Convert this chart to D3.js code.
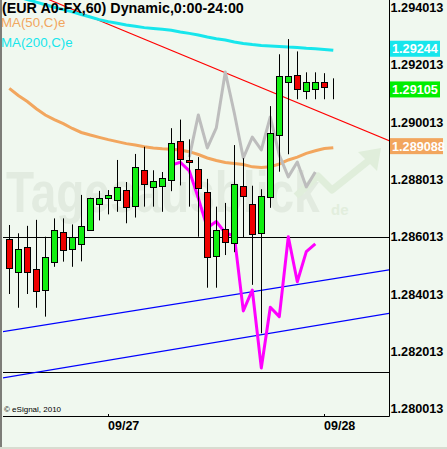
<!DOCTYPE html>
<html><head><meta charset="utf-8">
<script src="https://cdn.jsdelivr.net/npm/d3@7"></script>
<style>html,body{margin:0;padding:0;background:#f0f8ef;}svg{display:block}</style>
</head><body>
<script>
// ---- data (hourly candles, EUR A0-FX) ----
const openP  = [1.28593,1.28477,1.28564,1.28487,1.28414,1.28512,1.28617,1.28557,1.28575,1.28624,1.28714,1.28735,1.28728,1.28763,1.28707,1.28833,1.28774,1.28777,1.28798,1.28934,1.28868,1.28836,1.28756,1.28535,1.28627,1.28578,1.28778,1.28714,1.28613,1.28739,1.28955,1.29140,1.29165,1.29109,1.29116,1.29140,1.29110];
const highP  = [1.28642,1.28613,1.28639,1.28660,1.28601,1.28665,1.28665,1.28644,1.28747,1.28737,1.28761,1.28764,1.28869,1.28792,1.28890,1.28915,1.28833,1.28827,1.28980,1.29010,1.28941,1.28879,1.28803,1.28706,1.28719,1.28921,1.28875,1.28779,1.28767,1.29057,1.29238,1.29291,1.29248,1.29175,1.29175,1.29172,1.29154];
const lowP   = [1.28401,1.28353,1.28401,1.28353,1.28322,1.28496,1.28514,1.28496,1.28515,1.28622,1.28658,1.28679,1.28688,1.28648,1.28668,1.28706,1.28706,1.28688,1.28760,1.28780,1.28706,1.28601,1.28423,1.28423,1.28537,1.28547,1.28599,1.28433,1.28264,1.28702,1.28828,1.28889,1.29081,1.29081,1.29081,1.29081,1.29081];
const closeP = [1.28491,1.28558,1.28477,1.28411,1.28529,1.28624,1.28554,1.28600,1.28638,1.28735,1.28735,1.28746,1.28774,1.28704,1.28843,1.28784,1.28795,1.28805,1.28927,1.28871,1.28861,1.28770,1.28529,1.28623,1.28584,1.28784,1.28744,1.28610,1.28743,1.28962,1.29161,1.29161,1.29116,1.29140,1.29140,1.29123,1.29110];

const ma50  = [1.29119,1.29094,1.29073,1.29048,1.29026,1.29010,1.28996,1.28979,1.28965,1.28956,1.28948,1.28940,1.28933,1.28926,1.28921,1.28915,1.28911,1.28908,1.28906,1.28904,1.28898,1.28888,1.28876,1.28867,1.28860,1.28857,1.28853,1.28845,1.28843,1.28845,1.28855,1.28869,1.28879,1.28892,1.28901,1.28909,1.28912];
const ma200 = [1.29445,1.29438,1.29429,1.29420,1.29411,1.29402,1.29394,1.29386,1.29377,1.29368,1.29359,1.29352,1.29346,1.29340,1.29336,1.29331,1.29328,1.29325,1.29322,1.29316,1.29311,1.29305,1.29298,1.29292,1.29288,1.29281,1.29276,1.29272,1.29269,1.29267,1.29265,1.29263,1.29262,1.29259,1.29257,1.29255,1.29252];

const grayStart = 20;
const grayLine = [1.28879,1.29026,1.28911,1.28981,1.29176,1.29033,1.28876,1.28949,1.28904,1.29019,1.28886,1.28810,1.28862,1.28775,1.28827];
const magentaStart = 18;
const magentaLine = [1.28851,1.28861,1.28831,1.28736,1.28632,1.28654,1.28614,1.28604,1.28342,1.28415,1.28143,1.28355,1.28322,1.28601,1.28444,1.28549,1.28576];

const redTrend   = [[5,1.29421],[36,1.29017]];
const blueUpper  = [[0,1.28273],[36,1.28454]];
const blueLower  = [[0,1.28112],[36,1.28301]];
const hLevels    = [1.286013, 1.28129];

const priceTicks = [1.280013,1.282013,1.284013,1.286013,1.288013,1.290013,1.292013,1.294013];
const dateIdx    = [11,35];
const dateLabels = ["09/27","09/28"];

const title = "(EUR A0-FX,60) Dynamic,0:00-24:00";
const legendItems = ["MA(50,C)e","MA(200,C)e"];
const valueLabels = ["1.29244","1.29105","1.289088"];

// ---- layout ----
const W = 447, H = 449;
const plotL = 3, plotR = 389, plotT = 0, plotB = 416;
const x = d3.scaleLinear().domain([-0.7, 42.189]).range([plotL, plotR]);
const y = d3.scaleLinear().domain([1.280013, 1.294013]).range([408.5, 7.5]);

const colUp = "#11ee11", colDn = "#ee0000", colMA50 = "#f2a65e", colMA200 = "#17e6ec";

const svg = d3.select("body").append("svg").attr("width", W).attr("height", H)
  .style("font-family", "'Liberation Sans', Arial, sans-serif");

svg.append("rect").attr("width", W).attr("height", H).attr("fill", "#f0f8ef");

const defs = svg.append("defs");
defs.append("clipPath").attr("id","plotclip").append("rect")
  .attr("x", plotL).attr("y", plotT).attr("width", plotR-plotL).attr("height", plotB-plotT);

// watermark
const wm = svg.append("g").attr("clip-path","url(#plotclip)");
wm.append("text").attr("transform", "translate(6,212) scale(1,1.26)")
  .attr("font-size", 46).attr("font-weight", "bold")
  .attr("fill", "#e2ebe0").text("Tagesausblick");
wm.append("text").attr("x", 331).attr("y", 215).attr("font-size", 15).attr("font-weight","bold")
  .attr("fill", "#e2eedd").text("de");
wm.append("path").attr("d","M296,196 L318,176 L332,190 L372,158")
  .attr("fill","none").attr("stroke","#e0eedb").attr("stroke-width",7).attr("stroke-linejoin","round");
wm.append("path").attr("d","M358,152 L381,148 L377,171 Z").attr("fill","#e0eedb");

const plot = svg.append("g").attr("clip-path","url(#plotclip)");

// horizontal levels
plot.selectAll("line.h").data(hLevels).join("line")
  .attr("x1", plotL).attr("x2", plotR)
  .attr("y1", d => Math.round(y(d))+0.5).attr("y2", d => Math.round(y(d))+0.5)
  .attr("stroke", "#000").attr("stroke-width", 1);

// trend lines, extended across the plot
function extLine(pts){
  const [a,b] = pts; const s = (b[1]-a[1])/(b[0]-a[0]);
  const i0 = -1, i1 = 43;
  return [[i0, a[1]+s*(i0-a[0])],[i1, a[1]+s*(i1-a[0])]];
}
const lineGen = d3.line().x(d => x(d[0])).y(d => y(d[1]));
[[blueUpper,"#0000ff",1.3],[blueLower,"#0000ff",1.3],[redTrend,"#ff0000",1.1]].forEach(([p,c,w]) => {
  plot.append("path").attr("d", lineGen(extLine(p))).attr("fill","none").attr("stroke",c).attr("stroke-width",w);
});

// moving averages and overlays
const seriesLine = (arr, start) => lineGen(arr.map((v,k) => [start+k, v]));
plot.append("path").attr("d", seriesLine(ma200,0)).attr("fill","none").attr("stroke",colMA200).attr("stroke-width",3);
plot.append("path").attr("d", seriesLine(ma50,0)).attr("fill","none").attr("stroke",colMA50).attr("stroke-width",3);
plot.append("path").attr("d", seriesLine(grayLine,grayStart)).attr("fill","none").attr("stroke","#bdbdbd").attr("stroke-width",3).attr("stroke-linejoin","round");
plot.append("path").attr("d", seriesLine(magentaLine,magentaStart)).attr("fill","none").attr("stroke","#ff00ff").attr("stroke-width",3).attr("stroke-linejoin","round");

// candles
const candles = openP.map((o,i) => ({i, o, h:highP[i], l:lowP[i], c:closeP[i]}));
const cg = plot.append("g");
cg.selectAll("line.wick").data(candles).join("line")
  .attr("x1", d => Math.round(x(d.i))+0.5).attr("x2", d => Math.round(x(d.i))+0.5)
  .attr("y1", d => y(d.h)).attr("y2", d => y(d.l))
  .attr("stroke","#000").attr("stroke-width",1);
cg.selectAll("rect.body").data(candles).join("rect")
  .attr("x", d => Math.round(x(d.i))-3+0.5).attr("width", 6)
  .attr("y", d => Math.round(y(Math.max(d.o,d.c)))+0.5)
  .attr("height", d => Math.max(0, Math.round(y(Math.min(d.o,d.c))) - Math.round(y(Math.max(d.o,d.c)))))
  .attr("fill", d => d.c > d.o ? colUp : d.c < d.o ? colDn : "none")
  .attr("stroke","#000").attr("stroke-width",1);

// axes frame
svg.append("line").attr("x1", plotR+0.5).attr("x2", plotR+0.5).attr("y1", 0).attr("y2", plotB+0.5).attr("stroke","#000");
svg.append("line").attr("x1", plotL).attr("x2", plotR+0.5).attr("y1", plotB+0.5).attr("y2", plotB+0.5).attr("stroke","#000");

// right axis labels
svg.selectAll("text.pt").data(priceTicks).join("text")
  .attr("x", 390.5).attr("y", d => y(d)).attr("dy","0.36em")
  .attr("font-size", 12.7).attr("font-weight","bold").attr("fill","#000")
  .text(d => d.toFixed(6));

// date ticks
svg.selectAll("line.dt").data(dateIdx).join("line")
  .attr("x1", d => Math.round(x(d))+0.5).attr("x2", d => Math.round(x(d))+0.5)
  .attr("y1", plotB-2).attr("y2", plotB).attr("stroke","#000");
svg.selectAll("text.dl").data(dateIdx).join("text")
  .attr("x", d => Math.round(x(d))).attr("y", 430)
  .attr("font-size", 12.5).attr("font-weight","bold").attr("fill","#000")
  .text((d,k) => dateLabels[k]);

// last-value labels
const lastVals = [
  {text: valueLabels[0], v: ma200[ma200.length-1], bg: colMA200, w: 50},
  {text: valueLabels[1], v: closeP[closeP.length-1], bg: "#00ee00", w: 50},
  {text: valueLabels[2], v: ma50[ma50.length-1], bg: colMA50, w: 53}
];
const lv = svg.selectAll("g.lv").data(lastVals).join("g")
  .attr("transform", d => `translate(390,${y(d.v)-1.5})`);
lv.append("rect").attr("x",0).attr("y",-8).attr("width", d => d.w).attr("height",16).attr("fill", d => d.bg);
lv.append("text").attr("x",2).attr("y",0).attr("dy","0.36em")
  .attr("font-size",12.7).attr("font-weight","bold").attr("fill","#fff").text(d => d.text);

// title and legend
svg.append("text").attr("x", 2).attr("y", 13).attr("font-size", 14.3).attr("font-weight","bold").attr("fill","#000").text(title);
svg.append("text").attr("x", 1).attr("y", 26.5).attr("font-size", 13.3).attr("fill", colMA50).text(legendItems[0]);
svg.append("text").attr("x", 1).attr("y", 46.5).attr("font-size", 13.3).attr("fill", colMA200).text(legendItems[1]);

// copyright
svg.append("text").attr("x", 4).attr("y", 412).attr("font-size", 8).attr("fill","#000").text("\u00a9 eSignal, 2010");

// window border
svg.append("rect").attr("x",0).attr("y",0).attr("width",2).attr("height",H).attr("fill","#7d7d78");
svg.append("rect").attr("x",0).attr("y",H-2).attr("width",W).attr("height",2).attr("fill","#d8dcd0");
</script>
</body></html>
